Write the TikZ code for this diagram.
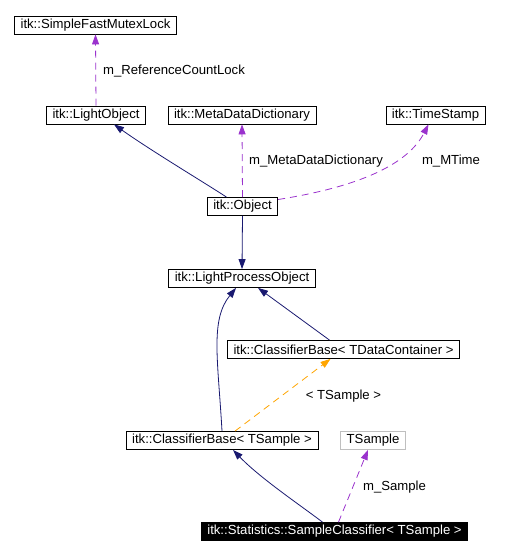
\documentclass[tikz,border=0pt]{standalone}
\usepackage{fontspec}
\setmainfont{Liberation Sans}
\usetikzlibrary{arrows.meta}
\definecolor{navy}{HTML}{191970}
\definecolor{orchid}{HTML}{9A32CD}
\definecolor{tmplorange}{HTML}{FFA500}
\begin{document}
\begin{tikzpicture}[x=1bp, y=-1bp, font=\fontsize{13.2}{15}\selectfont]
    \useasboundingbox (0,0) rectangle (518,555);

    \begin{scope}[every node/.style={rectangle, draw, line width=0.8bp, minimum height=18bp, inner xsep=6bp, inner ysep=0pt}]
        \node (mutex) at (95.5,25) {itk::SimpleFastMutexLock};
        \node (light) at (96,115) {itk::LightObject};
        \node (meta) at (242,115) {itk::MetaDataDictionary};
        \node (stamp) at (435.5,115) {itk::TimeStamp};
        \node (object) at (242.5,206.5) {itk::Object};
        \node (lpo) at (242,278.5) {itk::LightProcessObject};
        \node (cbtdc) at (343.5,349.5) {itk::ClassifierBase< TDataContainer >};
        \node (cbts) at (222,440.5) {itk::ClassifierBase< TSample >};
        \node [draw=black!25] (tsample) at (373,440.5) {TSample};
        \node [fill=black, text=white] (sc) at (334.5,531.5) {itk::Statistics::SampleClassifier< TSample >};
    \end{scope}

    \begin{scope}[every edge/.style={draw, line width=0.8bp, -{Triangle[length=10bp,width=7bp]}}]
        % inheritance
        \draw [navy, line width=0.8bp, -{Triangle[length=10bp,width=7bp]}] ([xshift=-16bp]object.north) .. controls (205,183) and (150,150) .. ([xshift=18bp]light.south);
        \path [navy] (object.south) edge (lpo.north);
        \draw [navy, line width=0.8bp, -{Triangle[length=10bp,width=7bp]}] (cbts.north) .. controls (218,360) and (210,320) .. ([xshift=-6bp]lpo.south);
        \path [navy] ([xshift=-14bp]cbtdc.north) edge ([xshift=16bp]lpo.south);
        \draw [navy, line width=0.8bp, -{Triangle[length=10bp,width=7bp]}] ([xshift=-12bp]sc.north) .. controls (300,505) and (260,478) .. ([xshift=11bp]cbts.south);

        % members
        \path [orchid, dash pattern=on 7bp off 5bp] (light.north) edge (mutex.south);
        \path [orchid, dash pattern=on 7bp off 5bp] (object.north) edge (meta.south);
        \draw [orchid, dash pattern=on 7bp off 5bp, line width=0.8bp, -{Triangle[length=10bp,width=7bp]}] ([yshift=7bp]object.east) .. controls (370,185) and (410,160) .. ([xshift=-7bp]stamp.south);
        \path [orchid, dash pattern=on 7bp off 5bp] ([xshift=4bp]sc.north) edge ([xshift=-5bp]tsample.south);

        % template
        \path [tmplorange, dash pattern=on 7bp off 5bp] ([xshift=13bp]cbts.north) edge ([xshift=-13bp]cbtdc.south);

        \node at (174,71) {m\_ReferenceCountLock};
        \node at (316,161) {m\_MetaDataDictionary};
        \node at (451,161) {m\_MTime};
        \node at (343.5,396) {< TSample >};
        \node at (394.5,487) {m\_Sample};
    \end{scope}
\end{tikzpicture}
\end{document}
